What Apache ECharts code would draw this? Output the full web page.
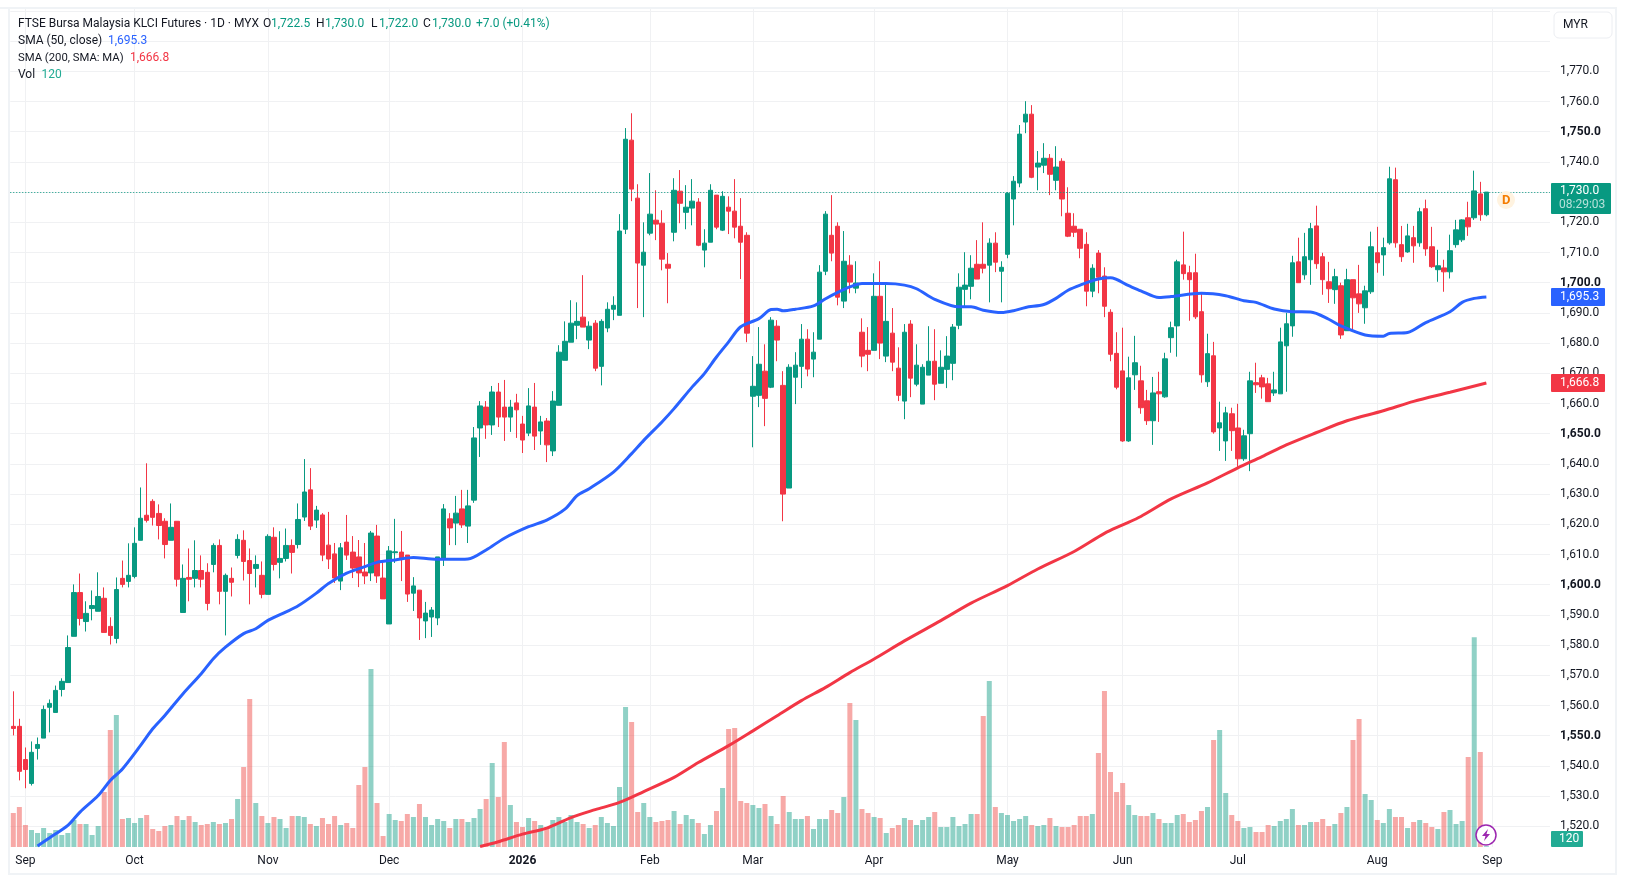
<!DOCTYPE html>
<html><head><meta charset="utf-8">
<style>html,body{margin:0;padding:0;background:#fff}#c{width:1626px;height:875px}</style>
<script src="https://cdn.jsdelivr.net/npm/echarts@6/dist/echarts.min.js"></script></head>
<body><div id="c"></div>
<script>
const opens=[1553.1,1553.1,1542.1,1534.2,1545.8,1549.2,1559.4,1557.7,1565.3,1567.6,
1582.9,1597.4,1587.8,1592.1,1591.2,1595.5,1586.2,1582.2,1602.1,1601.1,
1602.7,1614.7,1623,1627.6,1623.6,1621,1614.7,1621,1590.8,1602.4,
1602.1,1604.7,1604.1,1606.7,1613,1597.8,1602.1,1609.7,1614.7,1608,
1605.4,1603.1,1596.8,1615.7,1607.4,1608.7,1613,1613.3,1622.4,1631.4,
1621.4,1623.1,1613.1,1610.2,1601.2,1614.1,1610.8,1609.2,1604.2,1603.9,
1616.1,1602.2,1587,1610.6,1610.8,1609.8,1597.2,1598.2,1588,1589.3,
1589,1608.8,1621.8,1620.4,1625.1,1619.4,1628,1651.9,1658.8,1652.9,
1663.8,1658.8,1655.5,1660.2,1653.2,1650.2,1658.8,1650.9,1654.2,1644.3,
1659.4,1674.3,1680.3,1685.9,1688.6,1681,1686.6,1672.3,1685,1691.2,
1689.2,1717.7,1747.2,1728,1705.8,1716.4,1720.7,1719.7,1706.1,1716.7,
1730.3,1723.3,1724.7,1726.7,1710.8,1713.4,1729,1717.4,1725,1723.7,
1718.7,1715.7,1662.4,1662.7,1670.7,1665.4,1685.6,1666,1632,1668.7,
1672.3,1681.3,1674.7,1681.3,1703.8,1715.7,1718.7,1693.9,1705.8,1698.2,
1683.6,1677.6,1677.6,1695.5,1675.7,1683.3,1671.7,1660.8,1686.3,1666.4,
1659.8,1669.4,1674,1666.7,1671.3,1673.3,1685.9,1697.8,1698.8,1706.1,
1706.1,1705.8,1713.1,1703.8,1709.4,1727.7,1733,1753.2,1755.8,1738.3,
1738.9,1741.2,1733.9,1740.2,1723,1718.7,1717.7,1712.7,1697.2,1709.8,
1702.2,1690.2,1676.6,1670.8,1647.6,1669.5,1667.5,1660.9,1654.3,1663.9,
1662.2,1681.8,1685.7,1705.9,1703.3,1703.3,1690.4,1667.2,1675.8,1651.9,
1647.6,1656.6,1651.9,1641.7,1650,1666.9,1668.5,1666.5,1663.5,1663.2,
1679.1,1685.7,1706.9,1702.6,1707.6,1718.8,1708.6,1700.3,1697.7,1699,
1684.1,1701,1696.3,1691.7,1697,1709.9,1709.2,1713.2,1734.1,1712.6,
1710.2,1714.9,1713.2,1724.5,1711.9,1704.3,1704.9,1703.6,1712.6,1714.2,
1721.5,1721.5,1729.4,1722.5];
const highs=[1564.7,1555.6,1546.1,1548.1,1549.4,1560,1562,1566.6,1569,1583.2,
1600.1,1603.7,1594.5,1598.1,1604.1,1599.1,1589.2,1602.4,1608,1613.7,
1619,1632.2,1640.2,1628.3,1626.6,1622,1626.9,1621,1606.7,1612,
1614.7,1609.7,1607.1,1613.7,1615,1603.7,1605.7,1616.7,1618,1612,
1609.7,1607.7,1616.7,1619,1617.7,1618.6,1615,1626.9,1641.6,1638.6,
1626.1,1623.7,1624.1,1613.8,1613.8,1623.1,1616.1,1614.8,1613.8,1617.8,
1619.8,1607.2,1612.8,1621.8,1617.8,1609.8,1602.5,1598.2,1594.3,1592.6,
1609.2,1626.7,1623.7,1629.4,1631.4,1631.4,1652.2,1660.8,1660.8,1665.8,
1666.8,1667.8,1661.2,1663.2,1655.9,1665.1,1666.8,1655.9,1655.2,1664.1,
1679.3,1687.2,1694.2,1693.5,1702.5,1687.2,1687.6,1687.9,1693.5,1695.5,
1722.7,1751.2,1756.1,1732.6,1720,1736.3,1730.6,1724,1709.8,1734.6,
1737.3,1732.3,1734.3,1728,1717.7,1732.6,1729,1730.3,1728.6,1734.3,
1728,1716.7,1675.7,1685.3,1679.6,1688.6,1687.6,1670.7,1673,1677,
1686.3,1684.6,1683.6,1705.8,1723.7,1729,1720,1717.1,1709.1,1707.1,
1688.2,1685.3,1703.1,1707.1,1700.2,1691.6,1678.6,1686.3,1687.6,1679.6,
1673,1685.6,1684.6,1677.6,1682.3,1686.3,1703.1,1710.1,1709.1,1714.1,
1720,1714.7,1716.7,1707.1,1730,1735.3,1752.2,1760.1,1758.8,1743.6,
1746.2,1742.6,1745.2,1741.2,1731.6,1723,1717.7,1716.7,1706.1,1710.8,
1705.1,1691.2,1683.6,1685.1,1675.5,1682.4,1672.5,1664.5,1668.8,1670.5,
1676.8,1687.1,1707.6,1716.9,1705.6,1709.6,1696.3,1683.1,1680.4,1660.6,
1658.9,1658.6,1659.9,1651.3,1670.5,1673.5,1669.5,1668.5,1670.5,1685.1,
1690,1708.9,1714.9,1716.5,1719.8,1725.5,1709.9,1706.9,1704.6,1700,
1704.6,1701,1705.9,1699,1716.9,1718.5,1714.9,1738.4,1738.1,1718.8,
1719.5,1718.8,1724.8,1727.5,1718.5,1710.9,1707.6,1715.9,1720.8,1721,
1726.8,1737.1,1733.4,1730];
const lows=[1550.1,1535.2,1532.6,1533.5,1542.1,1549.2,1551.1,1557.7,1563,1567.6,
1582.9,1586.5,1584.5,1588.2,1591.2,1584.2,1580.2,1580.6,1599.1,1599.1,
1602.1,1614.7,1620.6,1619.6,1615,1608.7,1614.7,1599.4,1590.8,1594.5,
1599.1,1599.1,1591.5,1604.1,1593.5,1583.2,1596.1,1608.7,1601.4,1593.5,
1599.1,1595.5,1596.8,1604.7,1602.1,1607.7,1603.7,1612,1621.1,1618.1,
1618.8,1607.8,1605.2,1600.6,1598.2,1608.2,1602.2,1599.2,1600.2,1601.2,
1600.6,1595.3,1587,1607.2,1601.2,1594.3,1591.3,1581.7,1582.3,1582.7,
1586.6,1606.2,1613.1,1613.1,1618.8,1613.8,1627.1,1642.3,1648.3,1649.6,
1652.2,1647.6,1650.6,1648.6,1643.6,1649.2,1644.6,1646.3,1640.6,1642.6,
1659.4,1674.3,1680.3,1681.3,1685.3,1678,1670.7,1666,1683.6,1687.6,
1689.2,1716.1,1727,1691.6,1688.6,1715.7,1714.1,1704.1,1693.2,1713.7,
1719.7,1717.7,1719,1712.1,1705.1,1713.4,1717.7,1717.1,1716.1,1714.7,
1701.2,1680.3,1645.5,1658.8,1652.5,1665.1,1674,1621,1632,1659.8,
1665.1,1669,1668.7,1681.3,1702.5,1707.1,1692.5,1691.6,1696.5,1696.5,
1672,1670.7,1677.6,1674.7,1673.7,1670.7,1660.8,1654.8,1662.1,1665.7,
1659.8,1669.4,1661.1,1666.7,1665.1,1667.7,1684.6,1692.2,1694.5,1701.2,
1703.1,1693.5,1703.5,1693.5,1708.1,1719,1731.6,1749.5,1734.6,1730.6,
1736.3,1729,1730.6,1722,1715.1,1715.1,1708.1,1692.2,1695.2,1696.5,
1688.6,1674,1664.7,1647.3,1647.3,1664.5,1656.6,1652.9,1646.3,1653.9,
1661.9,1676.8,1675.5,1701,1687.4,1688,1666.9,1665.5,1650,1644.3,
1641,1644.3,1639,1641,1637.6,1663.5,1661.6,1660.6,1662.5,1663.2,
1663.9,1682.1,1700,1701,1699.3,1704.6,1696,1693.3,1693,1681.4,
1684.1,1684.4,1690,1686.4,1696.3,1703.3,1702.3,1712.6,1711.6,1706.9,
1709.9,1706.6,1711.9,1708.9,1704.9,1700.3,1697,1701.4,1711.6,1713.5,
1715.5,1720.8,1720.5,1722];
const closes=[1552.4,1538.2,1538.8,1544.5,1547.1,1558.7,1560.7,1565,1568,1579.2,
1597.4,1588.8,1590.5,1593.1,1596.1,1584.2,1583.2,1598.4,1600.1,1603.1,
1613.7,1622,1621.3,1622.3,1619.6,1613.3,1619,1601.8,1602.1,1601.8,
1604.7,1601.8,1593.8,1613,1597.8,1603.1,1600.8,1615,1607.7,1603.7,
1606.7,1596.8,1616,1606.7,1608.7,1613,1610.7,1621.6,1630.7,1619.4,
1624.7,1609.8,1608.5,1602.2,1612.2,1609.8,1605.5,1603.9,1602.9,1617.1,
1602.9,1595.3,1611.2,1610.9,1608.5,1596.9,1599.6,1589,1590.6,1591.6,
1609.2,1625.1,1618.8,1623.7,1619.8,1626.1,1648.6,1659.2,1652.9,1663.8,
1655.5,1655.5,1658.8,1657.9,1647.9,1659.2,1649.2,1653.9,1646.3,1660.8,
1677,1680.6,1686.6,1687.2,1685.3,1685.6,1671.7,1687.2,1691.2,1692.5,
1717.1,1747.5,1731,1706.5,1710.1,1722.7,1719.4,1707.8,1704.8,1730.6,
1726.3,1725,1727,1712.4,1713.1,1730.6,1718.4,1728.6,1723.7,1718.4,
1713.4,1683.3,1665.7,1673,1661.7,1687.6,1681,1630,1672,1672.7,
1681.3,1671.4,1677,1703.5,1722.7,1709.8,1695.2,1707.1,1700.2,1699.9,
1675.7,1676.3,1695.5,1680,1687.2,1673.7,1662.7,1683.6,1668.4,1672.7,
1672,1674,1666.4,1672,1675.7,1685.3,1698.5,1699.2,1704.8,1701.2,
1704.8,1713.1,1706.8,1705.1,1729.6,1733.6,1749.2,1755.8,1734.9,1739.6,
1741.2,1735.9,1738.3,1727.7,1715.4,1716.7,1711.4,1697.2,1704.8,1701.8,
1692.2,1676.3,1665.4,1647.6,1668.5,1673.5,1658.6,1654.3,1663.5,1663.2,
1674.8,1685.1,1706.9,1703,1701,1688.7,1669.5,1676.5,1650.6,1653.6,
1656.9,1651,1641.7,1649.3,1667.5,1666.2,1665.5,1660.6,1664.5,1680.4,
1686.4,1706.6,1700,1708.6,1717.9,1706.3,1701,1698,1702,1682.7,
1701,1695,1693,1697.3,1711.9,1706.6,1711.6,1734.4,1713.2,1708.6,
1715.5,1712.2,1723.5,1711.2,1705.3,1705.6,1703.6,1710.6,1717.5,1720.8,
1718.5,1730.4,1722.5,1730];
const volumes=[5100,6000,3300,2550,2100,2850,2100,2550,1800,2100,
4050,3450,3450,1800,3150,8250,17550,19800,4200,4350,
3600,4350,4800,2700,2400,3150,3300,4650,4050,4650,
3750,3300,3450,3750,3450,3600,4200,7200,12000,22200,
6600,4650,3600,4500,4200,2850,4650,4650,4500,3450,
3150,4350,3450,4650,3300,3600,2850,9300,12000,26700,
6600,1650,4950,4050,3900,4950,4500,6450,4500,3300,
4200,3900,2850,4200,4200,3750,4350,5700,7200,12600,
7500,15750,6300,3750,3000,4350,3900,3300,3000,4050,
4500,3750,4800,3750,3450,2850,3300,4500,3600,3150,
9000,21000,18750,5250,6600,4500,3750,3900,4050,5400,
3450,4800,4200,3600,1950,3300,5400,8850,17700,17850,
6900,6600,6300,5850,6450,4650,3450,7650,5250,4200,
4200,4650,2700,4200,4200,5550,5100,7500,21600,19050,
5700,5100,4500,4350,2100,2850,3300,4350,4050,3300,
4050,4500,5250,3000,3000,4500,3150,3450,4950,4950,
19650,24900,6000,5100,4800,3900,4200,4650,3300,3150,
3300,4350,3150,3000,3000,3300,4650,4650,4950,14100,
23400,11250,8250,9600,6300,4800,4650,4650,5100,4200,
3600,3600,4800,4950,3750,4050,5400,6000,16050,17550,
8100,4800,3900,2850,3000,2250,2250,3300,3150,3900,
4200,5700,3300,3300,3750,3750,4200,3150,3450,5100,
6000,16050,19200,7950,7050,4050,3600,5700,4500,4500,
2850,3750,4050,3600,3000,2700,5250,5550,3450,3900,
13500,31450,14250,120];
const sma50Idx=[4,6,9,11,14,16,18,21,23,25,28,31,33,35,38,40,42,45,47,50,52,55,58,60,63,66,69,72,75,78,81,85,88,91,93,95,99,102,104,107,109,112,114,116,118,120,123,125,126,127,129,132,134,136,138,140,144,147,149,152,156,158,160,163,165,167,170,172,174,176,179,181,184,186,189,191,196,200,203,205,208,211,214,217,219,223,226,227,230,233,237,239,241,243];
const sma50Val=[1513.5,1516.2,1520.3,1524.7,1530.2,1535.2,1539,1546.8,1552.3,1556.7,1563.9,1570.5,1575.5,1579.3,1583.8,1585.4,1588.2,1591,1593,1597.2,1600.4,1603.8,1606,1607.4,1608.2,1609,1608.5,1608.4,1608.5,1611.5,1615.4,1619.2,1621.4,1625,1629.5,1631.8,1637.3,1643.4,1647.8,1653.9,1658.3,1665.5,1669.9,1675.4,1680.4,1685.4,1688.1,1691.1,1691.2,1690.7,1691.2,1692.3,1694.7,1696.8,1698.6,1699.7,1699.7,1699.2,1698,1694.5,1692,1692,1690.9,1690.1,1690.7,1691.8,1692.8,1694.8,1697.5,1699.2,1701.2,1701.6,1699,1697.3,1695.1,1695.4,1696.5,1695.7,1694,1693.5,1691.3,1690.4,1690.3,1687.9,1685.7,1682.7,1682.3,1683.2,1683.5,1686.8,1690.4,1693.5,1694.8,1695.3];
const sma200Idx=[77,80,84,88,92,96,100,104,109,113,118,122,126,130,134,138,142,147,153,158,164,169,175,180,183,186,191,197,202,206,210,215,220,226,231,237,243];
const sma200Val=[1513.3,1514.9,1517.4,1519.4,1522.9,1525.5,1527.9,1531.5,1536.2,1541.1,1546.7,1551.6,1556.6,1561.6,1566,1570.9,1575.4,1581.4,1588.1,1593.9,1599.7,1605.2,1611,1617,1619.8,1622.6,1628.4,1633.7,1638.7,1642.4,1646.3,1650.4,1654.3,1657.6,1660.7,1663.7,1666.8];
const monthIdx=[2,20,42,62,84,105,122,142,164,183,202,225,244];
const monthLbl=['Sep','Oct','Nov','Dec','2026','Feb','Mar','Apr','May','Jun','Jul','Aug','Sep'];
const boldPrices=[1550,1600,1650,1700,1750];
const lastClose=1730, slotCount=254;

const UP='#089981',DOWN='#F23645',BLUE='#2962FF',TXT='#131722',GRID='#f0f1f3',FONT='Roboto';
const categories=Array.from({length:slotCount},(_,i)=>{const k=monthIdx.indexOf(i);return k<0?String(i):monthLbl[k];});
const sparse=(ix,v)=>{const a=new Array(opens.length).fill(null);ix.forEach((x,k)=>a[x]=v[k]);return a;};
const candle=opens.map((o,i)=>[o,closes[i],lows[i],highs[i]]);
const isMonth=i=>monthIdx.includes(i);
const fmt=v=>v.toLocaleString('en-US',{minimumFractionDigits:1,maximumFractionDigits:1});
const t=(x,y,text,fill,extra)=>({type:'text',z:100,x,y,style:Object.assign({text,fill:fill||TXT,font:'12px '+FONT,verticalAlign:'middle'},extra||{})});
const r=(x,y,w,h,fill,extra)=>({type:'rect',z:99,shape:{x,y,width:w,height:h,r:(extra&&extra.r)||0},style:Object.assign({fill},extra&&extra.style||{})});
const graphic=[
 r(0,7,1617,2,'#f0f3f6'),r(8,7,2,868,'#f0f3f6'),r(1615,7,2,868,'#f0f3f6'),r(8,873,1609,2,'#f0f3f6'),
 r(1554,12,58,26,'#fff',{r:5,style:{stroke:'#eceef2',lineWidth:1}}),
 t(1563,25,'MYR'),
 t(18,24,'FTSE Bursa Malaysia KLCI Futures · 1D · MYX'),
 t(263,24,'O'),t(271,24,'1,722.5',UP),t(316,24,'H'),t(325,24,'1,730.0',UP),t(371,24,'L'),t(379,24,'1,722.0',UP),t(423,24,'C'),t(432,24,'1,730.0',UP),t(476,24,'+7.0 (+0.41%)',UP),
 t(18,41,'SMA (50, close)'),t(108,41,'1,695.3',BLUE),
 t(18,58,'SMA (200, SMA: MA)','#131722',{font:'11.3px '+FONT}),t(130,58,'1,666.8',DOWN),
 t(18,75,'Vol'),t(41.5,75,'120','#22ab94'),
 r(1551,183,60,31,UP,{r:1}),
 t(1560,191,'1,730.0','#fff'),t(1559,205,'08:29:03','rgba(255,255,255,0.7)'),
 r(1551,288,54,18,BLUE,{r:1}),t(1560,297,'1,695.3','#fff'),
 r(1551,374,54,18,DOWN,{r:1}),t(1560,383,'1,666.8','#fff'),
 r(1551,831,32,16,'#22ab94',{r:1}),t(1559,839,'120','#fff'),
 {type:'circle',z:99,shape:{cx:1506,cy:200,r:9},style:{fill:'#fff3e0'}},
 t(1502,200.5,'D','#f57c00',{font:'bold 13px '+FONT}),
 {type:'circle',z:99,shape:{cx:1486,cy:835,r:10},style:{fill:'#fff',stroke:'#9c27b0',lineWidth:1.5}},
 {type:'polygon',z:100,shape:{points:[[1488,829],[1482,836],[1485.5,836],[1484,841],[1490,834],[1486.5,834]]},style:{fill:'#9c27b0'}}
];
const chart=echarts.init(document.getElementById('c'),null,{renderer:'canvas'});
chart.setOption({
 animation:false,backgroundColor:'#fff',textStyle:{fontFamily:FONT},
 graphic,
 grid:[{left:10.27,top:10.9,width:1539.75,height:845.6},{left:10.27,top:9,width:1539.75,height:838}],
 xAxis:[
  {type:'category',gridIndex:0,data:categories,show:false},
  {type:'category',gridIndex:1,data:categories,axisLine:{show:false},axisTick:{show:false},
   axisLabel:{interval:i=>isMonth(i),margin:8,fontSize:12,color:TXT,fontFamily:FONT,hideOverlap:false,
     formatter:v=>v==='2026'?'{b|2026}':v,rich:{b:{fontWeight:'bold',fontSize:12,color:TXT,fontFamily:FONT}}},
   splitLine:{show:true,interval:i=>isMonth(i),alignWithLabel:true,lineStyle:{color:GRID,width:1}}}
 ],
 yAxis:[
  {type:'value',gridIndex:0,position:'right',min:1510,max:1790,interval:10,axisLine:{show:false},axisTick:{show:false},
   splitLine:{show:true,showMinLine:false,lineStyle:{color:GRID,width:1}},
   axisLabel:{margin:10,fontSize:12,color:TXT,fontFamily:FONT,align:'left',
     formatter:v=>(v>1770||v<1520)?'':(boldPrices.includes(v)?'{b|'+fmt(v)+'}':fmt(v)),
     rich:{b:{fontWeight:'bold',fontSize:12,color:TXT,fontFamily:FONT}}}},
  {type:'value',gridIndex:1,min:0,max:125700,show:false,splitLine:{show:false}}
 ],
 series:[
  {name:'Vol',type:'bar',xAxisIndex:1,yAxisIndex:1,barWidth:5,z:1,
   data:volumes.map((v,i)=>({value:v,itemStyle:{color:closes[i]<opens[i]?'rgba(239,83,80,0.5)':'rgba(8,153,129,0.45)'}}))},
  {name:'Price',type:'candlestick',xAxisIndex:0,yAxisIndex:0,barWidth:5,z:3,data:candle,
   itemStyle:{color:UP,color0:DOWN,borderColor:UP,borderColor0:DOWN,borderWidth:1},
   markLine:{silent:true,symbol:'none',label:{show:false},animation:false,data:[{yAxis:lastClose}],lineStyle:{color:UP,type:[1,2],width:1}}},
  {name:'SMA50',type:'line',xAxisIndex:0,yAxisIndex:0,z:4,data:sparse(sma50Idx,sma50Val),connectNulls:true,smooth:0.3,showSymbol:false,symbol:'none',lineStyle:{color:BLUE,width:3}},
  {name:'SMA200',type:'line',xAxisIndex:0,yAxisIndex:0,z:4,data:sparse(sma200Idx,sma200Val),connectNulls:true,smooth:0.3,showSymbol:false,symbol:'none',lineStyle:{color:DOWN,width:3}}
 ]
});
</script></body></html>
